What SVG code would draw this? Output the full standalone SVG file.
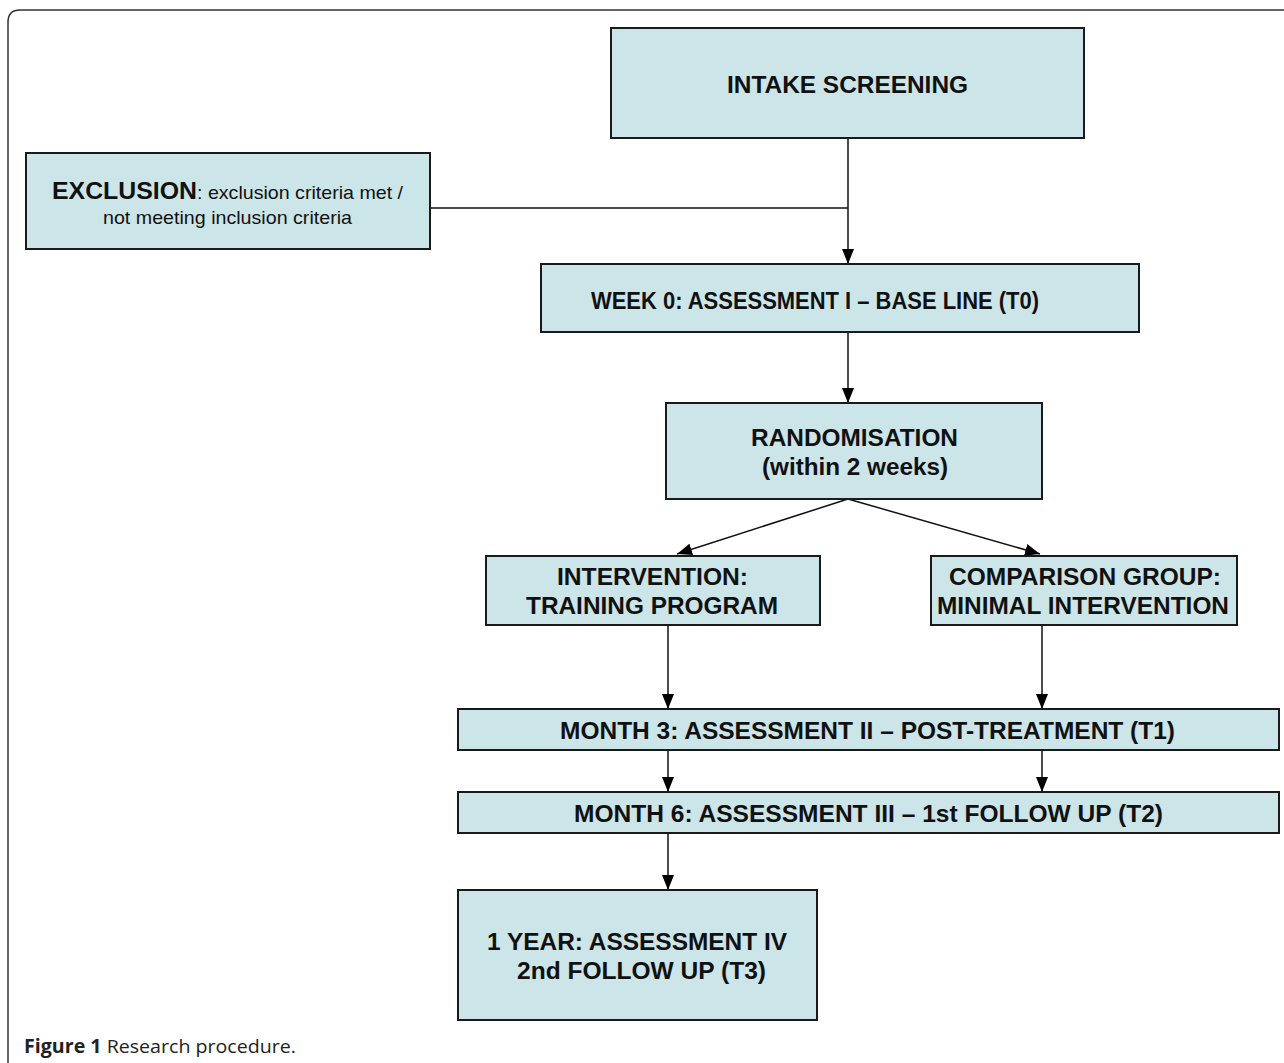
<svg xmlns="http://www.w3.org/2000/svg" width="1284" height="1063" viewBox="0 0 1284 1063">
<defs>
<style>
.box{fill:#cce5e8;stroke:#1a1a1a;stroke-width:2}
.t{font-family:"Liberation Sans Narrow","Liberation Sans",Arial,sans-serif;font-weight:bold;font-size:24px;fill:#111;text-anchor:start}
.r{font-family:"Liberation Sans Narrow","Liberation Sans",Arial,sans-serif;font-size:19px;fill:#111}
.c{stroke:#111;stroke-width:1.5;fill:none}
</style>
<marker id="ah" viewBox="0 0 15 12" refX="15" refY="6" markerWidth="15" markerHeight="12" markerUnits="userSpaceOnUse" orient="auto">
<path d="M0,0 L15,6 L0,12 Z" fill="#000"/>
</marker>
</defs>
<rect width="1284" height="1063" fill="#fff"/>
<path d="M8,1063 L8,22 Q8,10 20,10 L1284,10" fill="none" stroke="#333" stroke-width="1.5"/>
<g id="connectors">
<path class="c" d="M848,138 L848,264" marker-end="url(#ah)"/>
<path class="c" d="M430,208 L848,208"/>
<path class="c" d="M848,332 L848,403" marker-end="url(#ah)"/>
<path class="c" d="M848,499 L677,554" marker-end="url(#ah)"/>
<path class="c" d="M848,499 L1040,554" marker-end="url(#ah)"/>
<path class="c" d="M668,625 L668,709" marker-end="url(#ah)"/>
<path class="c" d="M1042,625 L1042,709" marker-end="url(#ah)"/>
<path class="c" d="M668,750 L668,792" marker-end="url(#ah)"/>
<path class="c" d="M1042,750 L1042,792" marker-end="url(#ah)"/>
<path class="c" d="M668,833 L668,890" marker-end="url(#ah)"/>
</g>
<g id="intake">
<rect class="box" x="611" y="28" width="473" height="110"/>
<text class="t" x="727" y="93" textLength="241" lengthAdjust="spacingAndGlyphs">INTAKE SCREENING</text>
</g>
<g id="exclusion">
<rect class="box" x="26" y="153" width="404" height="96"/>
<text x="52" y="199"><tspan class="t" textLength="145" lengthAdjust="spacingAndGlyphs">EXCLUSION</tspan><tspan class="r" textLength="206" lengthAdjust="spacingAndGlyphs">: exclusion criteria met /</tspan></text>
<text class="r" x="103" y="224" textLength="249" lengthAdjust="spacingAndGlyphs">not meeting inclusion criteria</text>
</g>
<g id="week0">
<rect class="box" x="541" y="264" width="598" height="68"/>
<text class="t" x="591" y="309" textLength="448" lengthAdjust="spacingAndGlyphs">WEEK 0: ASSESSMENT I – BASE LINE (T0)</text>
</g>
<g id="random">
<rect class="box" x="666" y="403" width="376" height="96"/>
<text class="t" x="751" y="446" textLength="207" lengthAdjust="spacingAndGlyphs">RANDOMISATION</text>
<text class="t" x="762" y="475" textLength="186" lengthAdjust="spacingAndGlyphs">(within 2 weeks)</text>
</g>
<g id="intervention">
<rect class="box" x="486" y="556" width="334" height="69"/>
<text class="t" x="557" y="585" textLength="191" lengthAdjust="spacingAndGlyphs">INTERVENTION:</text>
<text class="t" x="526" y="614" textLength="252" lengthAdjust="spacingAndGlyphs">TRAINING PROGRAM</text>
</g>
<g id="comparison">
<rect class="box" x="931" y="556" width="306" height="69"/>
<text class="t" x="949" y="585" textLength="272" lengthAdjust="spacingAndGlyphs">COMPARISON GROUP:</text>
<text class="t" x="937" y="614" textLength="292" lengthAdjust="spacingAndGlyphs">MINIMAL INTERVENTION</text>
</g>
<g id="month3">
<rect class="box" x="458" y="709" width="821" height="41"/>
<text class="t" x="560" y="739" textLength="615" lengthAdjust="spacingAndGlyphs">MONTH 3: ASSESSMENT II – POST-TREATMENT (T1)</text>
</g>
<g id="month6">
<rect class="box" x="458" y="792" width="821" height="41"/>
<text class="t" x="574" y="822" textLength="589" lengthAdjust="spacingAndGlyphs">MONTH 6: ASSESSMENT III – 1st FOLLOW UP (T2)</text>
</g>
<g id="year1">
<rect class="box" x="458" y="890" width="359" height="130"/>
<text class="t" x="487" y="950" textLength="300" lengthAdjust="spacingAndGlyphs">1 YEAR: ASSESSMENT IV</text>
<text class="t" x="517" y="979" textLength="249" lengthAdjust="spacingAndGlyphs">2nd FOLLOW UP (T3)</text>
</g>
<text x="24" y="1053" textLength="272" lengthAdjust="spacingAndGlyphs" style="font-family:'Open Sans','Noto Sans',sans-serif;font-size:19px;fill:#222"><tspan font-weight="bold">Figure 1</tspan> Research procedure.</text>
</svg>
